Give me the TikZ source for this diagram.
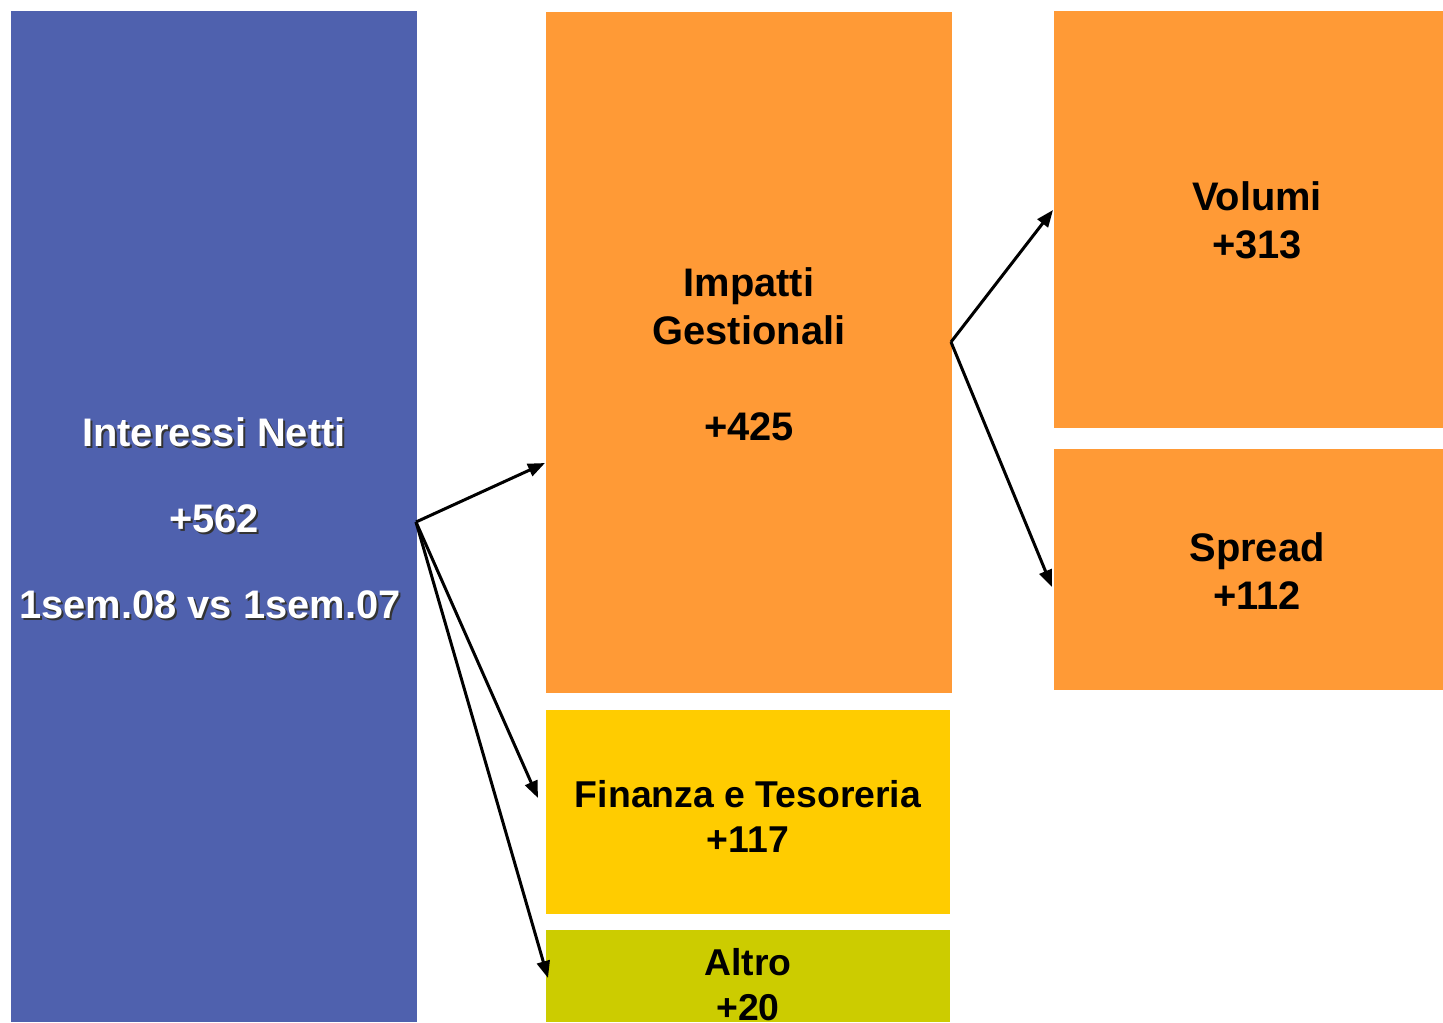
\documentclass[tikz,border=0pt]{standalone}
\usepackage{fontspec}
\setmainfont{Liberation Sans}
\usetikzlibrary{arrows.meta}
\definecolor{cblue}{HTML}{4F61AE}
\definecolor{corange}{HTML}{FF9A36}
\definecolor{cyellow}{HTML}{FFCC00}
\definecolor{colive}{HTML}{CCCC00}
\begin{document}
\begin{tikzpicture}[x=1bp,y=-1bp,
  lbl/.style={align=center,inner sep=0pt,font=\fontsize{40}{48}\selectfont\bfseries},
  lblsm/.style={align=center,inner sep=0pt,font=\fontsize{37.5}{45}\selectfont\bfseries},
  conn/.style={line width=3bp,-{Triangle[length=17bp,width=13bp]}}]
\useasboundingbox (0,0) rectangle (1443,1022);
% boxes
\fill[cblue] (11,11) rectangle (417,1022);
\fill[corange] (546,12) rectangle (952,693);
\fill[cyellow] (546,710) rectangle (950,914);
\fill[colive] (546,930) rectangle (950,1022);
\fill[corange] (1054,11) rectangle (1443,428);
\fill[corange] (1054,449) rectangle (1443,690);
% blue text with shadow
\node[lbl,text=black!80,anchor=base] at (216,448) {Interessi Netti};
\node[lbl,text=white,anchor=base] (t1) at (214,446) {Interessi Netti};
\node[lbl,text=black!80,anchor=base] at (216,534) {+562};
\node[lbl,text=white,anchor=base] (t2) at (214,532) {+562};
\node[lbl,text=black!80,anchor=base] at (212,620) {1sem.08 vs 1sem.07};
\node[lbl,text=white,anchor=base] (t3) at (210,618) {1sem.08 vs 1sem.07};
% other text (base = baseline of last line)
\node[lbl,anchor=base] (imp) at (749,344) {Impatti\\Gestionali};
\node[lbl,anchor=base] (impv) at (749,440) {+425};
\node[lbl,anchor=base] (vol) at (1257,258) {Volumi\\+313};
\node[lbl,anchor=base] (spr) at (1257,609) {Spread\\+112};
\node[lblsm,anchor=base] (fin) at (748,852) {Finanza e Tesoreria\\+117};
\node[lblsm,anchor=base] (alt) at (748,1020) {Altro\\+20};
% connectors
\coordinate (b0) at (416,522);
\coordinate (eImp) at (545,463);
\coordinate (eFin) at (538,798);
\coordinate (eAlt) at (548,978);
\coordinate (o0) at (951,342);
\coordinate (eVol) at (1053,210);
\coordinate (eSpr) at (1052,587);
\draw[conn] (b0) -- (eImp);
\draw[conn] (b0) -- (eFin);
\draw[conn] (b0) -- (eAlt);
\draw[conn] (o0) -- (eVol);
\draw[conn] (o0) -- (eSpr);
\end{tikzpicture}
\end{document}
